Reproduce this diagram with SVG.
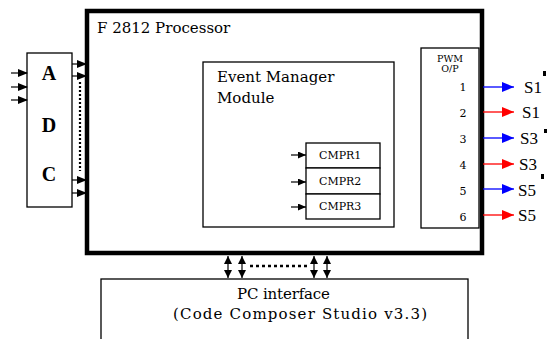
<svg xmlns="http://www.w3.org/2000/svg" width="551" height="339" viewBox="0 0 551 339">
<defs>
<marker id="ab" markerWidth="10" markerHeight="8" refX="9" refY="4" orient="auto" markerUnits="userSpaceOnUse"><path d="M0,0 L10,4 L0,8 z" fill="#000"/></marker>
<marker id="as" markerWidth="8" markerHeight="7" refX="8" refY="3.5" orient="auto" markerUnits="userSpaceOnUse"><path d="M0,0 L8,3.5 L0,7 z" fill="#000"/></marker>
<marker id="ablue" markerWidth="12" markerHeight="10" refX="12" refY="5" orient="auto" markerUnits="userSpaceOnUse"><path d="M0,0 L12,5 L0,10 z" fill="#0000ff"/></marker>
<marker id="ared" markerWidth="12" markerHeight="10" refX="12" refY="5" orient="auto" markerUnits="userSpaceOnUse"><path d="M0,0 L12,5 L0,10 z" fill="#ff0000"/></marker>
<marker id="av" markerWidth="8" markerHeight="8" refX="8" refY="4" orient="auto-start-reverse" markerUnits="userSpaceOnUse"><path d="M0,0 L8,4 L0,8 z" fill="#000"/></marker>
</defs>
<style>
.box{fill:#fff;stroke:#000;stroke-width:1.3}
.serif{font-family:"DejaVu Serif","Liberation Serif",serif;fill:#000}
.lib{font-family:"Liberation Serif","DejaVu Serif",serif;fill:#000}
.big{font-size:15px}
.sm{font-size:11px}
.tiny{font-size:9.5px}
.s{font-size:17px}
.blk{stroke:#000;stroke-width:1.2;fill:none}
</style>
<rect width="551" height="339" fill="#fff"/>
<g id="processor">
<rect x="87" y="11" width="395" height="242" fill="#fff" stroke="#000" stroke-width="4.5"/>
<text class="serif big" x="97" y="33">F 2812 Processor</text>
</g>
<g id="adc">
<rect class="box" x="27" y="53" width="45" height="154"/>
<text class="lib" x="49" y="80" font-size="20" font-weight="bold" text-anchor="middle">A</text>
<text class="lib" x="49" y="132" font-size="20" font-weight="bold" text-anchor="middle">D</text>
<text class="lib" x="49" y="181" font-size="20" font-weight="bold" text-anchor="middle">C</text>
</g>
<g id="event-manager">
<rect class="box" x="203" y="62" width="191" height="165"/>
<text class="serif big" x="217" y="82">Event Manager</text>
<text class="serif big" x="217" y="103">Module</text>
</g>
<g id="cmpr1"><rect class="box" x="306" y="143" width="74" height="25"/><text class="serif sm" x="319" y="159">CMPR1</text></g>
<g id="cmpr2"><rect class="box" x="306" y="168" width="74" height="26"/><text class="serif sm" x="319" y="185">CMPR2</text></g>
<g id="cmpr3"><rect class="box" x="306" y="194" width="74" height="25"/><text class="serif sm" x="319" y="210">CMPR3</text></g>
<g id="pwm">
<rect class="box" x="421" y="48" width="58" height="180"/>
<text class="serif tiny" x="450" y="62" text-anchor="middle">PWM</text>
<text class="serif tiny" x="450" y="72" text-anchor="middle">O/P</text>
<text class="serif sm" x="463" y="91" text-anchor="middle">1</text>
<text class="serif sm" x="463" y="117" text-anchor="middle">2</text>
<text class="serif sm" x="463" y="143" text-anchor="middle">3</text>
<text class="serif sm" x="463" y="169" text-anchor="middle">4</text>
<text class="serif sm" x="463" y="195" text-anchor="middle">5</text>
<text class="serif sm" x="463" y="221" text-anchor="middle">6</text>
</g>
<g id="outputs" class="lib s">
<text x="524" y="93">S1</text><rect x="543" y="71" width="3" height="5" fill="#000"/>
<text x="522" y="118">S1</text>
<text x="520" y="144">S3</text><rect x="544" y="129" width="3" height="4" fill="#000"/>
<text x="519" y="170">S3</text>
<text x="518" y="196">S5</text><rect x="541" y="174" width="3" height="5" fill="#000"/>
<text x="518" y="221">S5</text>
</g>
<g id="pc-interface">
<rect class="box" x="101" y="279" width="367" height="70"/>
<text class="serif big" x="237" y="299" textLength="93">PC interface</text>
<text class="serif big" x="173" y="319" textLength="254">(Code Composer Studio v3.3)</text>
</g>
<g id="connectors">
<line class="blk" x1="11" y1="73" x2="27" y2="73" marker-end="url(#ab)"/>
<line class="blk" x1="11" y1="87" x2="27" y2="87" marker-end="url(#ab)"/>
<line class="blk" x1="11" y1="100" x2="27" y2="100" marker-end="url(#ab)"/>
<line class="blk" x1="72" y1="64" x2="86" y2="64" marker-end="url(#ab)"/>
<line class="blk" x1="72" y1="76" x2="86" y2="76" marker-end="url(#ab)"/>
<line class="blk" x1="72" y1="180" x2="86" y2="180" marker-end="url(#ab)"/>
<line class="blk" x1="72" y1="193" x2="86" y2="193" marker-end="url(#ab)"/>
<line x1="80" y1="82" x2="80" y2="171" stroke="#000" stroke-width="2.2" stroke-dasharray="2,2"/>
<line class="blk" x1="291" y1="155" x2="306" y2="155" marker-end="url(#as)"/>
<line class="blk" x1="291" y1="182" x2="306" y2="182" marker-end="url(#as)"/>
<line class="blk" x1="291" y1="207" x2="306" y2="207" marker-end="url(#as)"/>
<line x1="483" y1="87" x2="514" y2="87" stroke="#0000ff" stroke-width="1.3" marker-end="url(#ablue)"/>
<line x1="483" y1="112" x2="514" y2="112" stroke="#ff0000" stroke-width="1.3" marker-end="url(#ared)"/>
<line x1="483" y1="138" x2="514" y2="138" stroke="#0000ff" stroke-width="1.3" marker-end="url(#ablue)"/>
<line x1="483" y1="164" x2="514" y2="164" stroke="#ff0000" stroke-width="1.3" marker-end="url(#ared)"/>
<line x1="483" y1="189" x2="514" y2="189" stroke="#0000ff" stroke-width="1.3" marker-end="url(#ablue)"/>
<line x1="483" y1="215" x2="514" y2="215" stroke="#ff0000" stroke-width="1.3" marker-end="url(#ared)"/>
<line class="blk" x1="228" y1="256" x2="228" y2="278" marker-start="url(#av)" marker-end="url(#av)"/>
<line class="blk" x1="242" y1="256" x2="242" y2="278" marker-start="url(#av)" marker-end="url(#av)"/>
<line class="blk" x1="314" y1="256" x2="314" y2="278" marker-start="url(#av)" marker-end="url(#av)"/>
<line class="blk" x1="327" y1="256" x2="327" y2="278" marker-start="url(#av)" marker-end="url(#av)"/>
<line x1="250" y1="266" x2="307" y2="266" stroke="#000" stroke-width="2.5" stroke-dasharray="3,3"/>
</g>
</svg>
